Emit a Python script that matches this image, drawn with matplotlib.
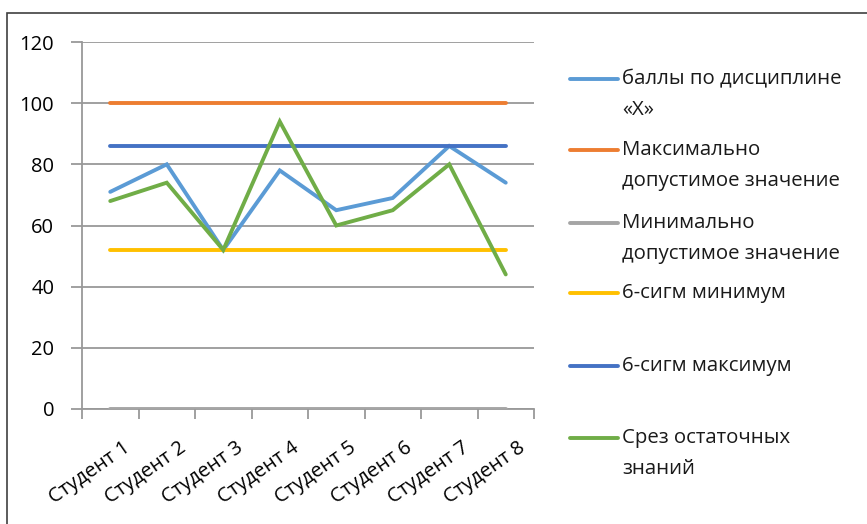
import numpy as np
import matplotlib.pyplot as plt
import matplotlib.transforms as mtransforms
from matplotlib.lines import Line2D
from matplotlib.patches import Rectangle

plt.rcParams['font.family'] = ['Open Sans', 'DejaVu Sans']

students = ['Студент 1', 'Студент 2', 'Студент 3', 'Студент 4',
            'Студент 5', 'Студент 6', 'Студент 7', 'Студент 8']
scores = [71, 80, 52, 78, 65, 69, 86, 74]
max_allowed = [100] * 8
min_allowed = [0] * 8
sigma_min = [52] * 8
sigma_max = [86] * 8
residual = [68, 74, 52, 94, 60, 65, 80, 44]

labels = ['баллы по дисциплине\n«X»',
          'Максимально\nдопустимое значение',
          'Минимально\nдопустимое значение',
          '6-сигм минимум',
          '6-сигм максимум',
          'Срез остаточных\nзнаний']
colors = ['#5B9BD5', '#ED7D31', '#A5A5A5', '#FFC000', '#4472C4', '#70AD47']
series = [scores, max_allowed, min_allowed, sigma_min, sigma_max, residual]

W, H = 867, 524
fig = plt.figure(figsize=(W / 100, H / 100), dpi=100)
ax = fig.add_axes([82 / W, 1 - 409 / H, (534 - 82) / W, (409 - 42) / H])

x = np.arange(1, len(students) + 1)
for vals, c in zip(series, colors):
    ax.plot(x, vals, color=c, lw=2.8, solid_capstyle='round',
            solid_joinstyle='miter', zorder=3)

ax.set_xlim(0.5, len(students) + 0.5)
ax.set_ylim(0, 120)
ax.set_yticks(range(0, 121, 20))
ax.set_xticks(np.arange(0.5, len(students) + 1, 1))
ax.set_xticklabels([])
ax.set_xticks(x, minor=True)
ax.set_xticklabels(students, minor=True, rotation=35, ha='right',
                   va='top', rotation_mode='anchor', fontsize=14.5)
ax.tick_params(axis='x', which='minor', length=0, pad=21)
ax.tick_params(axis='x', which='major', length=7, width=1.3, color='#999999')
ax.tick_params(axis='y', length=8, width=1.3, color='#999999', labelsize=14.5, pad=12)
shift = mtransforms.ScaledTranslation(0.12, 0, fig.dpi_scale_trans)
for lbl in ax.get_xticklabels(minor=True):
    lbl.set_transform(lbl.get_transform() + shift)

ax.grid(axis='y', color='#999999', lw=1.3, zorder=1)
for s in ['top', 'right']:
    ax.spines[s].set_visible(False)
for s in ['left', 'bottom']:
    ax.spines[s].set_color('#999999')
    ax.spines[s].set_linewidth(1.3)

# legend drawn by hand, Excel-style
ys = [79, 150, 223, 293, 366, 438]
for lab, c, yy in zip(labels, colors, ys):
    fig.add_artist(Line2D([570 / W, 618 / W], [1 - yy / H, 1 - yy / H],
                          color=c, lw=2.8, solid_capstyle='round'))
    fig.text(622 / W, 1 - (yy - 10) / H, lab, ha='left', va='top',
             fontsize=14.7, color='#1a1a1a', linespacing=1.75)

fig.add_artist(Rectangle((7 / W, -0.05), 1.0, 1 - 13 / H + 0.05,
                         transform=fig.transFigure, fill=False,
                         edgecolor='#404040', lw=1.2))

fig.savefig('out.png', dpi=100)
